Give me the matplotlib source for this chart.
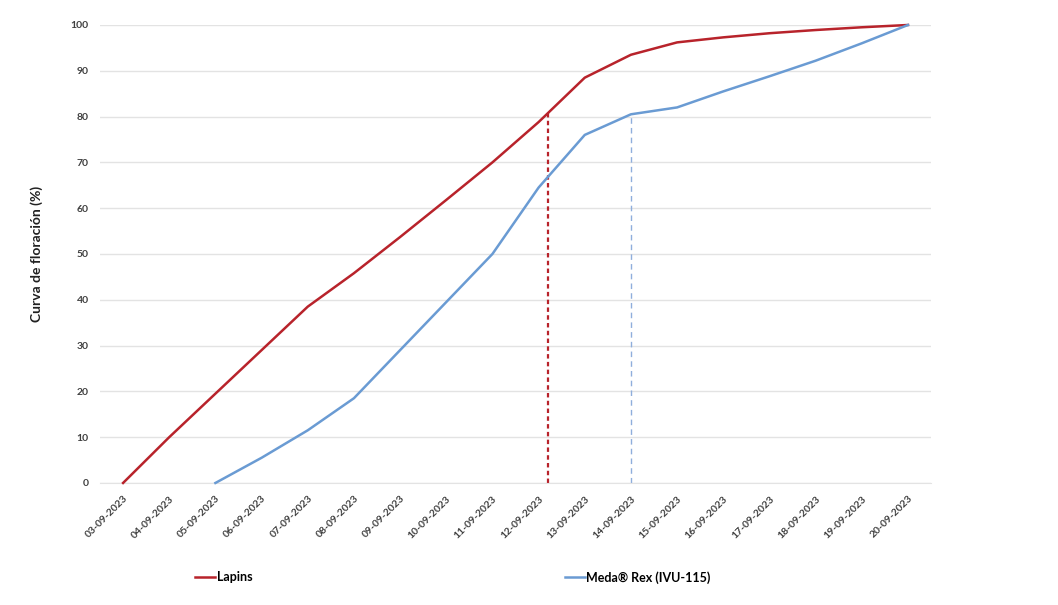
import matplotlib
matplotlib.use("Agg")
import matplotlib.pyplot as plt

# Dates on the x axis (categories)
fechas = ["03-09-2023", "04-09-2023", "05-09-2023", "06-09-2023", "07-09-2023",
          "08-09-2023", "09-09-2023", "10-09-2023", "11-09-2023", "12-09-2023",
          "13-09-2023", "14-09-2023", "15-09-2023", "16-09-2023", "17-09-2023",
          "18-09-2023", "19-09-2023", "20-09-2023"]

# Flowering curve (%)
lapins = [0, 10, 19.5, 29, 38.5, 45.8, 53.7, 61.8, 70, 78.8,
          88.5, 93.5, 96.2, 97.3, 98.2, 98.9, 99.5, 100]
meda_rex = [None, None, 0, 5.5, 11.5, 18.5, 29, 39.5, 50, 64.5,
            76, 80.5, 82, 85.5, 88.8, 92.2, 96, 100]

# 80 % flowering markers (position in day index, height in %)
lapins_80_x, lapins_80_y = 9.2, 80.8
meda_80_x, meda_80_y = 11.0, 80.5

RED = "#B8232B"
BLUE = "#6A9BD3"

plt.rcParams["font.family"] = ["Lato", "DejaVu Sans"]

fig = plt.figure(figsize=(10.58, 6.05), dpi=100)
ax = fig.add_axes([0.0945, 0.2017, 0.7855, 0.757])

x = list(range(len(fechas)))
xm = [i for i, v in zip(x, meda_rex) if v is not None]
ym = [v for v in meda_rex if v is not None]

ax.plot(x, lapins, color=RED, linewidth=1.8, label="Lapins", clip_on=False, zorder=3)
ax.plot(xm, ym, color=BLUE, linewidth=1.8, label="Meda\u00ae Rex (IVU-115)", clip_on=False, zorder=3)

ax.vlines(lapins_80_x, 0, lapins_80_y, colors=RED, linestyles=(0, (2, 1.5)), linewidth=1.6, zorder=2)
ax.vlines(meda_80_x, 0, meda_80_y, colors="#8FAEDC", linestyles=(0, (4, 3)), linewidth=1.0, zorder=2)

ax.set_xlim(-0.5, len(fechas) - 0.5)
ax.set_ylim(0, 100)
ax.set_yticks(range(0, 101, 10))
ax.set_xticks(x)
ax.set_xticklabels(fechas, rotation=45, ha="right", rotation_mode="anchor",
                   fontsize=7.5, fontweight="bold", color="#404040")
for lbl in ax.get_yticklabels():
    lbl.set_fontsize(7.5)
    lbl.set_fontweight("bold")
    lbl.set_color("#404040")

ax.tick_params(axis="both", length=0, pad=8)
ax.grid(axis="y", color="#E3E3E3", linewidth=1.0)
ax.set_axisbelow(True)
for side in ["top", "right", "left"]:
    ax.spines[side].set_visible(False)
ax.spines["bottom"].set_color("#E3E3E3")

ax.set_ylabel("Curva de floraci\u00f3n (%)", fontsize=10, fontweight="bold", color="#202020", labelpad=20)

fig.legend(loc="center", bbox_to_anchor=(0.428, 0.046), ncol=2, frameon=False,
           prop={"size": 9, "weight": "bold"}, handlelength=1.6, handletextpad=0.1,
           columnspacing=25)

fig.savefig("out.png", dpi=100, facecolor="white")
